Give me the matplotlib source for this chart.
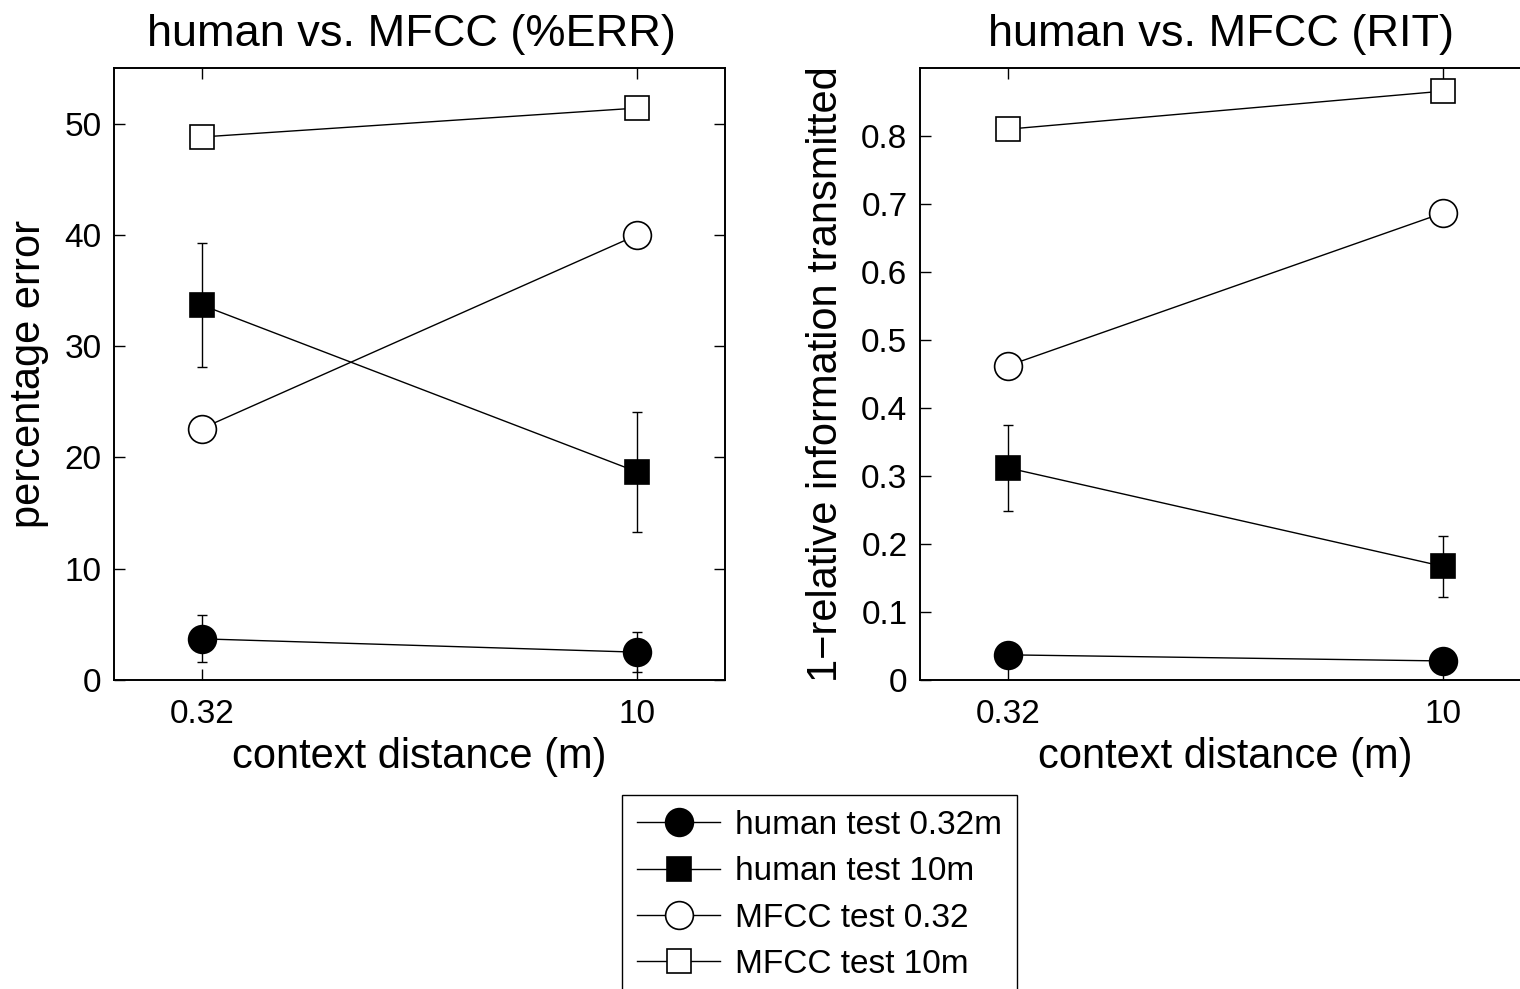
import numpy as np
import matplotlib
matplotlib.use("Agg")
import matplotlib.pyplot as plt

plt.rcParams['font.family'] = ['Liberation Sans', 'DejaVu Sans']

# ---- data ----
distances = [0.32, 10]
tick_labels = ["0.32", "10"]
series_names = ["human test 0.32m", "human test 10m", "MFCC test 0.32", "MFCC test 10m"]

err_human_032 = [3.7, 2.5]
err_human_032_sd = [2.1, 1.8]
err_human_10 = [33.7, 18.7]
err_human_10_sd = [5.6, 5.4]
err_mfcc_032 = [22.6, 40.0]
err_mfcc_10 = [48.8, 51.4]

rit_human_032 = [0.037, 0.028]
rit_human_032_sd = [0.008, 0.008]
rit_human_10 = [0.312, 0.167]
rit_human_10_sd = [0.063, 0.045]
rit_mfcc_032 = [0.462, 0.687]
rit_mfcc_10 = [0.810, 0.866]

styles = [
    dict(marker='o', ms=20, mfc='black'),
    dict(marker='s', ms=16.8, mfc='black'),
    dict(marker='o', ms=20, mfc='white'),
    dict(marker='s', ms=16.8, mfc='white'),
]

W, H = 1520, 989
fig = plt.figure(figsize=(W / 100, H / 100), dpi=100)

axL = fig.add_axes([114 / W, 1 - 680 / H, 611 / W, 612 / H])
axR = fig.add_axes([920 / W, 1 - 680 / H, 611 / W, 612 / H])


def draw(ax, vals, sds, ylim, yticks, ylabel, title, title_x):
    lines = []
    for i, (v, st) in enumerate(zip(vals, styles)):
        sd = sds[i]
        if sd is not None:
            ax.errorbar(distances, v, yerr=sd, fmt='none', ecolor='black',
                        elinewidth=1.0, capsize=3.3, capthick=1.0, zorder=2)
        ln, = ax.plot(distances, v, color='black', lw=1.0, marker=st['marker'],
                      ms=st['ms'], mfc=st['mfc'], mec='black', mew=1.2,
                      zorder=3, label=series_names[i])
        lines.append(ln)
    ax.set_xscale('log')
    ax.set_xlim(0.16, 20)
    ax.set_xticks(distances)
    ax.set_xticklabels(tick_labels)
    ax.xaxis.set_minor_locator(matplotlib.ticker.NullLocator())
    ax.set_ylim(*ylim)
    ax.set_yticks(yticks)
    ax.tick_params(direction='in', length=8, width=1.0, top=True, right=True,
                   labelsize=24, pad=9)
    ax.tick_params(axis='x', pad=14)
    for s in ax.spines.values():
        s.set_linewidth(1.4)
    ax.set_xlabel("context distance (m)", fontsize=30, labelpad=5)
    ax.set_ylabel(ylabel, fontsize=30, labelpad=11)
    ax.set_title(title, fontsize=32.5, pad=16, x=title_x)
    return lines


lines = draw(axL, [err_human_032, err_human_10, err_mfcc_032, err_mfcc_10],
             [err_human_032_sd, err_human_10_sd, None, None],
             (0, 55), [0, 10, 20, 30, 40, 50], "percentage error",
             "human vs. MFCC (%ERR)", 0.487)
axL.set_yticklabels(["0", "10", "20", "30", "40", "50"])

draw(axR, [rit_human_032, rit_human_10, rit_mfcc_032, rit_mfcc_10],
     [rit_human_032_sd, rit_human_10_sd, None, None],
     (0, 0.9), [0, 0.1, 0.2, 0.3, 0.4, 0.5, 0.6, 0.7, 0.8],
     "1\u2212relative information transmitted", "human vs. MFCC (RIT)", 0.493)
axR.set_yticklabels(["0", "0.1", "0.2", "0.3", "0.4", "0.5", "0.6", "0.7", "0.8"])

leg = fig.legend(handles=lines, labels=series_names, loc='upper left',
                 bbox_to_anchor=(622 / W, 1 - 795 / H), fontsize=24,
                 frameon=True, fancybox=False, edgecolor='black', framealpha=1,
                 handlelength=2.5, handletextpad=0.45, labelspacing=0.46,
                 borderpad=0.45, borderaxespad=0, markerscale=1.0)
leg.get_frame().set_linewidth(1.0)

fig.savefig("out.png", dpi=100)
